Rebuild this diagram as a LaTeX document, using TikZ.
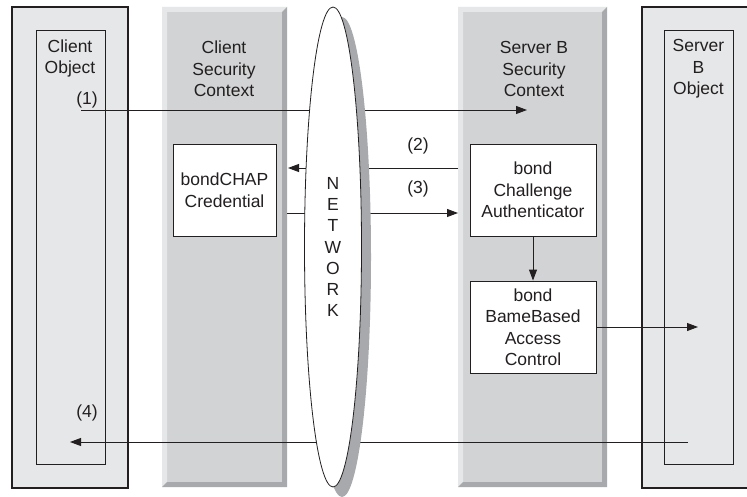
\documentclass[tikz,border=0pt]{standalone}
\usepackage{fontspec}
\setmainfont{Liberation Sans}
\usetikzlibrary{arrows.meta,shapes.geometric}
\definecolor{objfill}{HTML}{E6E7E8}
\definecolor{colmid}{HTML}{D1D3D4}
\definecolor{collight}{HTML}{E6E7E8}
\definecolor{coldark}{HTML}{A7A9AC}
\definecolor{ink}{HTML}{231F20}
\tikzset{
  txt/.style={font=\fontsize{17.5}{21.5}\selectfont, text=ink, align=center, inner sep=0pt},
  objouter/.style={draw=ink, line width=2.5pt, fill=objfill, inner sep=0pt},
  objinner/.style={draw=ink, line width=0.9pt, inner sep=0pt},
  whitebox/.style={draw=ink, line width=0.9pt, fill=white, inner sep=0pt, minimum height=92pt, txt},
  conn/.style={draw=ink, line width=0.9pt},
  arr/.style={conn, -{Triangle[length=11pt,width=8pt]}},
}
\begin{document}
\begin{tikzpicture}[x=1pt,y=-1pt]
\clip (0,0) rectangle (747,497);
\fill[white] (0,0) rectangle (747,497);
% bevelled columns
\fill[colmid] (162,7) rectangle (287,487);
\fill[collight] (162,7) -- (287,7) -- (282,12) -- (167,12) -- (167,482) -- (162,487) -- cycle;
\fill[coldark] (287,7) -- (287,487) -- (162,487) -- (167,482) -- (282,482) -- (282,12) -- cycle;
\fill[colmid] (458,7) rectangle (607,487);
\fill[collight] (458,7) -- (607,7) -- (602,12) -- (463,12) -- (463,482) -- (458,487) -- cycle;
\fill[coldark] (607,7) -- (607,487) -- (458,487) -- (463,482) -- (602,482) -- (602,12) -- cycle;
% object boxes
\node[objouter, minimum width=116pt, minimum height=481pt] (cout) at (70,247.5) {};
\node[objinner, minimum width=69pt, minimum height=434pt] (cin) at (70.5,247) {};
\node[objouter, minimum width=110pt, minimum height=481pt] (sout) at (697,247.5) {};
\node[objinner, minimum width=69pt, minimum height=434pt] (sin) at (698.5,247) {};
% white boxes
\node[whitebox, minimum width=103pt] (cred) at (224.5,190) {bondCHAP\\Credential};
\node[whitebox, minimum width=126pt] (chal) at (533,190) {bond\\Challenge\\Authenticator};
\node[whitebox, minimum width=126pt] (bame) at (533,327) {bond\\BameBased\\Access\\Control};
% connector end points
\coordinate (p1s) at (81,110);
\coordinate (p1e) at (527,110);
\coordinate (p2s) at (458,168);
\coordinate (p2e) at (288,168);
\coordinate (p3s) at (287,213);
\coordinate (p3e) at (458,213);
\coordinate (p5e) at (698,327);
\coordinate (p4s) at (688,442);
\coordinate (p4e) at (70,442);
% connectors
\draw[arr] (p1s) -- (p1e);
\draw[arr] (p2s) -- (p2e);
\draw[arr] (p3s) -- (p3e);
\draw[arr] (chal.south) -- (bame.north);
\draw[arr] (bame.east) -- (p5e);
\draw[arr] (p4s) -- (p4e);
% network
\node[ellipse, fill=coldark, minimum width=58pt, minimum height=480pt, inner sep=0pt] (netsh) at (342,257) {};
\node[ellipse, draw=ink, line width=0.8pt, fill=white, minimum width=57pt, minimum height=480pt, inner sep=0pt] (net) at (333,247) {};
\node[txt, font=\fontsize{17.5}{21.3}\selectfont] (netlbl) at (333,247) {N\\E\\T\\W\\O\\R\\K};
% texts
\node[txt] (ctitle) at (70,58.5) {Client\\Object};
\node[txt] (cctitle) at (224,69) {Client\\Security\\Context};
\node[txt] (sctitle) at (534,69) {Server B\\Security\\Context};
\node[txt] (stitle) at (698.5,69) {Server\\B\\Object};
\node[txt] (l1) at (87,100) {(1)};
\node[txt] (l2) at (418,146) {(2)};
\node[txt] (l3) at (418,189) {(3)};
\node[txt] (l4) at (87,413) {(4)};
\end{tikzpicture}
\end{document}
